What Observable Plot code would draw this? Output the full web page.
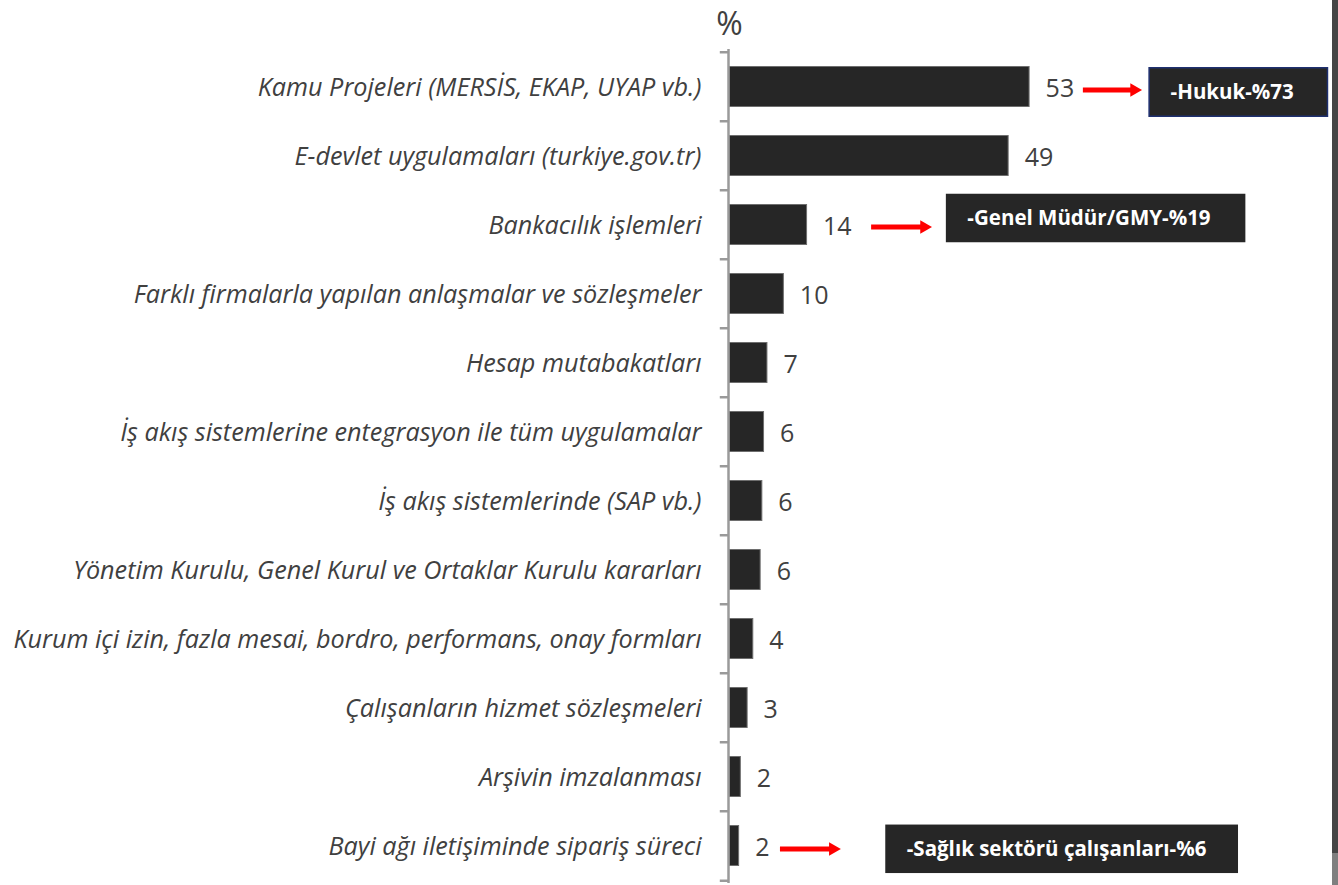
<!DOCTYPE html>
<html>
<head>
<meta charset="utf-8">
<script src="https://cdn.jsdelivr.net/npm/d3@7"></script>
<script src="https://cdn.jsdelivr.net/npm/@observablehq/plot@0.6"></script>
<style>
  html, body { margin: 0; padding: 0; background: #ffffff; }
  #chart { position: relative; width: 1338px; height: 885px; overflow: hidden; }
  #scroll { position: absolute; right: 0; top: 0; width: 6px; height: 853px; background: #454545; }
  #scroll2 { position: absolute; right: 0; top: 853px; width: 6px; height: 32px; background: #7f7f7f; }
</style>
</head>
<body>
<div id="chart"><div id="scroll"></div><div id="scroll2"></div></div>
<script>
// ---- Data ----
const categories = [
  "Kamu Projeleri (MERSİS, EKAP, UYAP vb.)",
  "E-devlet uygulamaları (turkiye.gov.tr)",
  "Bankacılık işlemleri",
  "Farklı firmalarla yapılan anlaşmalar ve sözleşmeler",
  "Hesap mutabakatları",
  "İş akış sistemlerine entegrasyon ile tüm uygulamalar",
  "İş akış sistemlerinde (SAP vb.)",
  "Yönetim Kurulu, Genel Kurul ve Ortaklar Kurulu kararları",
  "Kurum içi izin, fazla mesai, bordro, performans, onay formları",
  "Çalışanların hizmet sözleşmeleri",
  "Arşivin imzalanması",
  "Bayi ağı iletişiminde sipariş süreci"
];
const values = [53, 49.3, 13.7, 9.6, 6.7, 6.1, 5.8, 5.5, 4.2, 3.2, 2.0, 1.7];
const valueLabels = ["53", "49", "14", "10", "7", "6", "6", "6", "4", "3", "2", "2"];

const noteTexts = ["-Hukuk-%73", "-Genel Müdür/GMY-%19", "-Sağlık sektörü çalışanları-%6"];
const noteCategories = [categories[0], categories[2], categories[11]];

// ---- Annotation layout (data units on x, pixel offsets on y) ----
const arrowStart = [62.5, 25.1, 9.0];
const arrowTip = [72.8, 35.7, 19.6];
const arrowDy = [3, 2, 3];
const boxStart = [74.2, 38.3, 27.6];
const boxEnd = [105.7, 91.2, 89.9];
const boxDy = [5.5, -6.5, 3.3];
const boxStroke = ["#1f3070", "none", "none"];

const rows = categories.map((c, i) => ({category: c, value: values[i], label: valueLabels[i]}));

const bandwidth = (883 - 49) / categories.length;

const rightTriangle = {
  draw(ctx, size) {
    const s = Math.sqrt(size / Math.PI);
    ctx.moveTo(s * 0.95, 0);
    ctx.lineTo(-s * 0.95, -s * 1.1);
    ctx.lineTo(-s * 0.95, s * 1.1);
    ctx.closePath();
  }
};

const noteMarks = [];
noteTexts.forEach((t, i) => {
  const d = [{category: noteCategories[i], text: t}];
  noteMarks.push(
    Plot.ruleY(d, {y: "category", x1: arrowStart[i], x2: arrowTip[i] - 1.4, stroke: "#ff0000", strokeWidth: 5, dy: arrowDy[i]}),
    Plot.dot(d, {y: "category", x: arrowTip[i], dx: -5.5, dy: arrowDy[i], r: 6.2, symbol: rightTriangle, fill: "#ff0000", stroke: "none"}),
    Plot.rect(d, {y: "category", x1: boxStart[i], x2: boxEnd[i], insetTop: (bandwidth - 49) / 2, insetBottom: (bandwidth - 49) / 2, dy: boxDy[i], fill: "#262626", stroke: boxStroke[i], strokeWidth: 1.5}),
    Plot.text(d, {y: "category", x: boxStart[i], text: "text", dx: 21, dy: boxDy[i], textAnchor: "start", fill: "#ffffff", fontWeight: "bold", fontSize: 20.5})
  );
});

const chart = Plot.plot({
  width: 1338,
  height: 885,
  marginLeft: 729,
  marginRight: 6,
  marginTop: 49,
  marginBottom: 2,
  x: {domain: [0, 106.5], axis: null},
  y: {domain: categories, axis: null, padding: 0},
  style: {fontFamily: "'Open Sans', sans-serif", background: "transparent", overflow: "visible"},
  marks: [
    Plot.barX(rows, {x: "value", y: "category", fill: "#262626", stroke: "#6e6e6e", strokeWidth: 1, insetTop: 14.5, insetBottom: 14.5}),
    Plot.ruleX([0], {dx: -1, stroke: "#9a9a9a", strokeWidth: 2.5}),
    Plot.ruleY(rows, {y: "category", x1: -1.45, x2: 0, dx: -1, dy: -bandwidth / 2, stroke: "#9a9a9a", strokeWidth: 2.5}),
    Plot.ruleY([rows[rows.length - 1]], {y: "category", x1: -1.45, x2: 0, dx: -1, dy: bandwidth / 2, stroke: "#9a9a9a", strokeWidth: 2.5}),
    Plot.text(rows, {x: "value", y: "category", text: "label", dx: 16, dy: 2, textAnchor: "start", fontSize: 25, fill: "#404040"}),
    Plot.text(rows, {x: 0, y: "category", text: "category", dx: -28, dy: 1, textAnchor: "end", fontSize: 25.2, fontStyle: "italic", fill: "#404040"}),
    Plot.text(["%"], {frameAnchor: "top-left", text: d => d, dy: -37, textAnchor: "middle", fontSize: 32, fill: "#404040"}),
    ...noteMarks
  ]
});
chart.style.position = "absolute";
chart.style.left = "0";
chart.style.top = "0";
document.getElementById("chart").prepend(chart);
</script>
</body>
</html>
